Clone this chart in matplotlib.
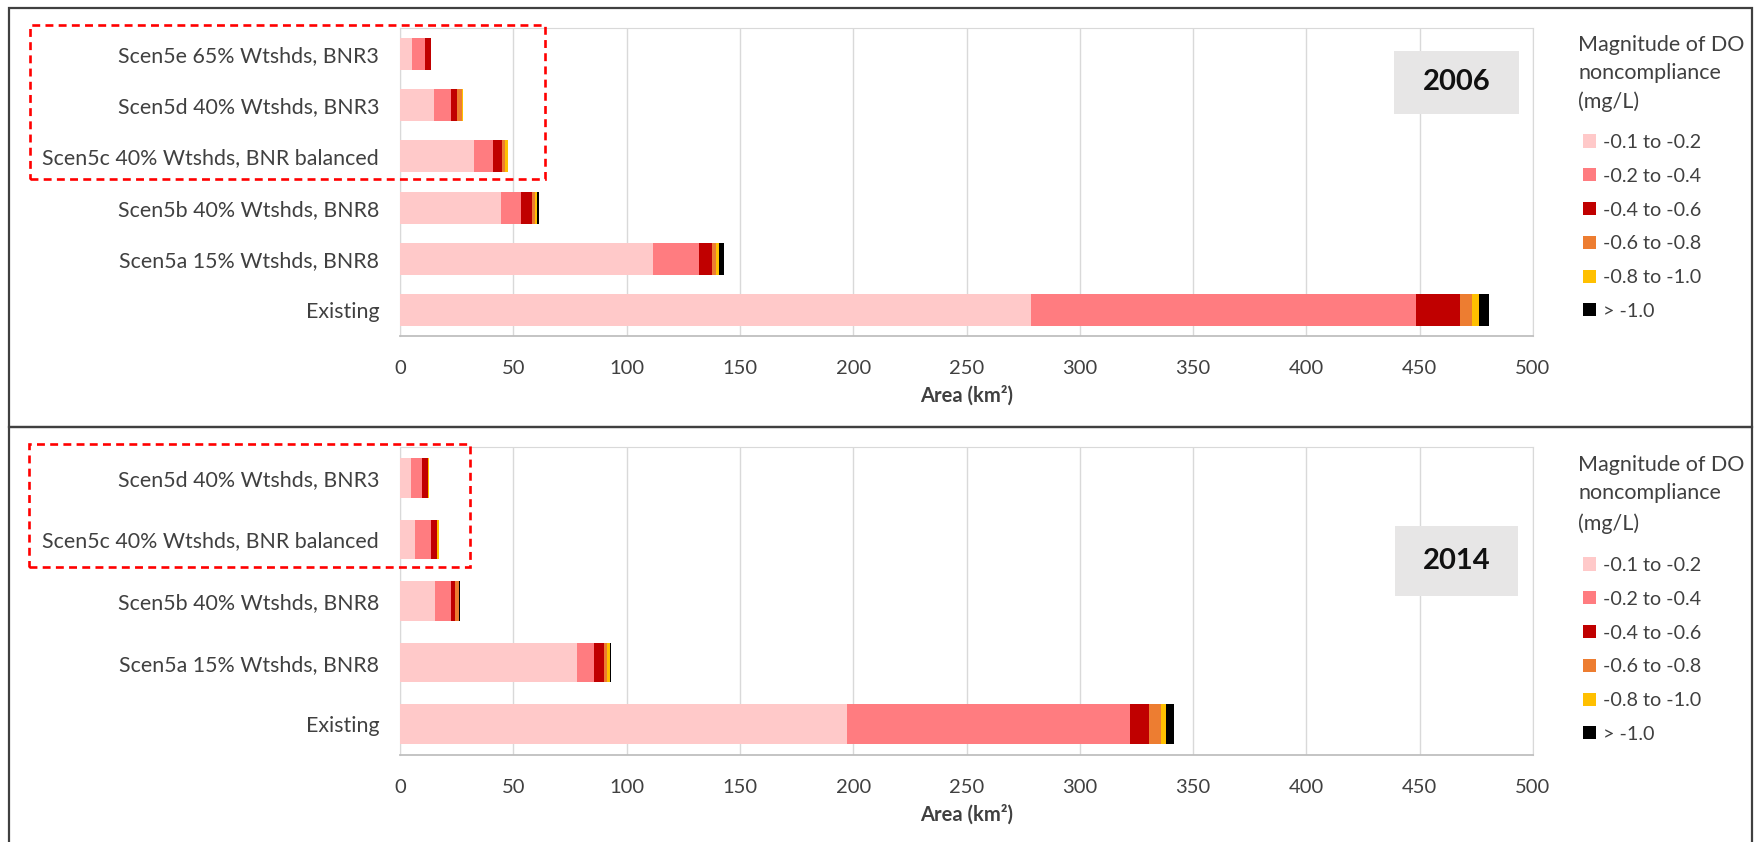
import matplotlib
matplotlib.use("Agg")
import matplotlib.pyplot as plt
from matplotlib.patches import Rectangle
import numpy as np

plt.rcParams['font.family'] = ['Lato', 'DejaVu Sans']

class_names = ["-0.1 to -0.2", "-0.2 to -0.4", "-0.4 to -0.6",
               "-0.6 to -0.8", "-0.8 to -1.0", "> -1.0"]
class_colors = ["#FFC9C9", "#FF7C80", "#C00000", "#ED7D31", "#FFC000", "#000000"]

# 2006 (top to bottom)
labels_2006 = ["Scen5e 65% Wtshds, BNR3", "Scen5d 40% Wtshds, BNR3",
               "Scen5c 40% Wtshds, BNR balanced", "Scen5b 40% Wtshds, BNR8",
               "Scen5a 15% Wtshds, BNR8", "Existing"]
a1_2006 = [5.4, 15.0, 32.5, 44.4, 111.5, 278.4]
a2_2006 = [5.6, 7.5, 8.4, 9.1, 20.4, 169.8]
a3_2006 = [2.7, 2.8, 4.0, 4.6, 5.9, 19.7]
a4_2006 = [0.0, 1.9, 1.4, 1.5, 1.5, 5.3]
a5_2006 = [0.0, 0.7, 1.2, 0.7, 1.4, 2.8]
a6_2006 = [0.0, 0.0, 0.0, 1.0, 2.2, 4.6]

# 2014 (top to bottom)
labels_2014 = ["Scen5d 40% Wtshds, BNR3", "Scen5c 40% Wtshds, BNR balanced",
               "Scen5b 40% Wtshds, BNR8", "Scen5a 15% Wtshds, BNR8", "Existing"]
a1_2014 = [4.7, 6.8, 15.4, 77.9, 197.2]
a2_2014 = [5.1, 6.9, 7.2, 7.8, 124.8]
a3_2014 = [2.4, 2.5, 1.8, 4.3, 8.4]
a4_2014 = [0.2, 0.3, 1.5, 1.2, 5.6]
a5_2014 = [0.4, 0.6, 0.3, 1.4, 1.9]
a6_2014 = [0.0, 0.0, 0.4, 0.5, 3.5]

xticks = np.arange(0, 501, 50)
legend_title = ["Magnitude of DO", "noncompliance", "(mg/L)"]
W, H = 1754, 842
TXT = '#404040'


def fx(px):
    return px / W


def fy(py):
    return 1 - py / H


def draw_panel(ax, labels, series, height):
    y = np.arange(len(labels))[::-1]
    left = np.zeros(len(labels))
    handles = []
    for vals, col, name in zip(series, class_colors, class_names):
        b = ax.barh(y, vals, left=left, height=height, color=col, label=name, zorder=3)
        left += np.array(vals)
        handles.append(b)
    ax.set_yticks(y, labels)
    ax.set_ylim(-0.5, len(labels) - 0.5)
    ax.set_xlim(0, 500)
    ax.set_xticks(xticks)
    ax.tick_params(length=0, colors=TXT)
    ax.tick_params(axis='y', pad=15, labelsize=15.4)
    ax.tick_params(axis='x', pad=17, labelsize=14.5)
    ax.grid(axis='x', color='#D9D9D9', lw=1, zorder=0)
    for s in ['left', 'top', 'right']:
        ax.spines[s].set_color('#D9D9D9')
    ax.spines['bottom'].set_color('#BFBFBF')
    ax.spines['bottom'].set_linewidth(1.3)
    ax.set_xlabel("Area (km²)", fontsize=14.5, fontweight='bold', color=TXT, labelpad=6)
    return handles


fig = plt.figure(figsize=(17.54, 8.42), dpi=100)

ax1 = fig.add_axes([fx(400), fy(336), fx(1533) - fx(400), fy(28) - fy(336)])
ax2 = fig.add_axes([fx(400), fy(755), fx(1533) - fx(400), fy(447) - fy(755)])

h1 = draw_panel(ax1, labels_2006, [a1_2006, a2_2006, a3_2006, a4_2006, a5_2006, a6_2006], 0.62)
h2 = draw_panel(ax2, labels_2014, [a1_2014, a2_2014, a3_2014, a4_2014, a5_2014, a6_2014], 0.64)

# panel frames
fig.add_artist(Rectangle((fx(9), fy(427)), fx(1752) - fx(9), fy(8) - fy(427),
                         transform=fig.transFigure, fill=False, edgecolor='#404040', lw=1.6))
fig.add_artist(Rectangle((fx(9), fy(860)), fx(1752) - fx(9), fy(427) - fy(860),
                         transform=fig.transFigure, fill=False, edgecolor='#404040', lw=1.6))

# dashed highlight boxes
for (x0, y0, x1, y1) in [(30, 25, 545, 179), (29, 444, 470, 567)]:
    fig.add_artist(Rectangle((fx(x0), fy(y1)), fx(x1) - fx(x0), fy(y0) - fy(y1),
                             transform=fig.transFigure, fill=False, edgecolor='#FF0000',
                             lw=1.9, linestyle=(0, (3, 2))))

# year boxes
for (x0, y0, x1, y1, yr) in [(1394, 51, 1519, 114, "2006"), (1395, 526, 1518, 596, "2014")]:
    fig.add_artist(Rectangle((fx(x0), fy(y1)), fx(x1) - fx(x0), fy(y0) - fy(y1),
                             transform=fig.transFigure, facecolor='#E7E6E6', edgecolor='none'))
    fig.text((fx(x0) + fx(x1)) / 2, (fy(y0) + fy(y1)) / 2, yr, ha='center', va='center',
             fontsize=21, fontweight='bold', color='#111111')

# legends
for handles, title_ys, top in [(h1, (45, 73, 102), 134), (h2, (465, 493, 524), 557)]:
    for line, ty in zip(legend_title, title_ys):
        fig.text(fx(1578), fy(ty), line, ha='left', va='center', fontsize=15.5, color=TXT)
    leg = fig.legend(handles=handles, labels=class_names, loc='upper left',
                     bbox_to_anchor=(fx(1583), fy(top)), frameon=False,
                     fontsize=14.2, handlelength=0.65, handleheight=0.65,
                     handletextpad=0.35, labelspacing=0.85, borderpad=0, borderaxespad=0)
    for t in leg.get_texts():
        t.set_color(TXT)

fig.savefig("out.png", dpi=100)
